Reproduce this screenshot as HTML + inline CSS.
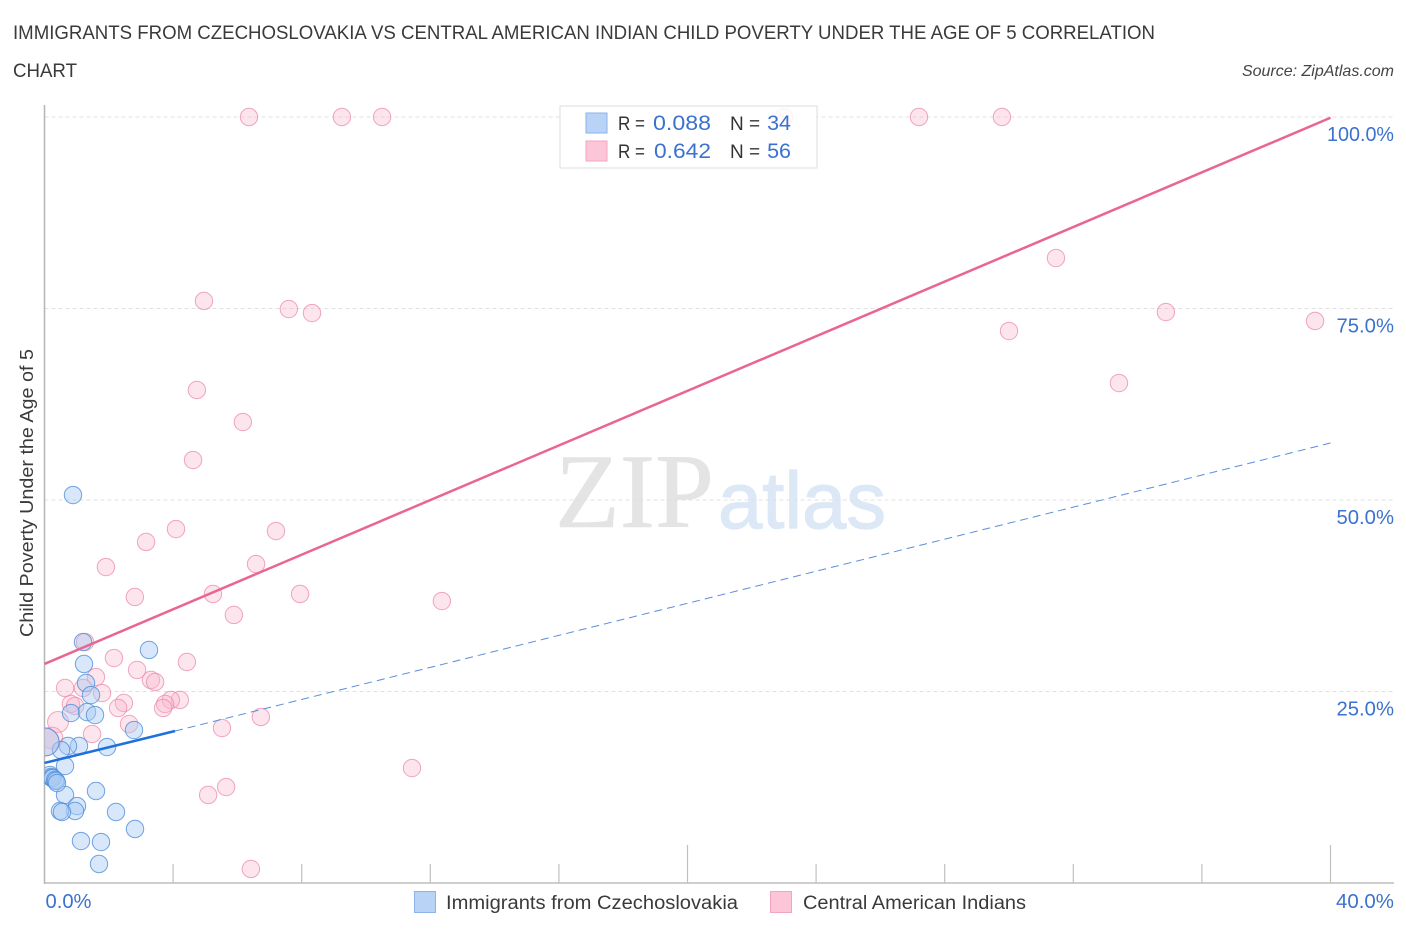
<!DOCTYPE html>
<html>
<head>
<meta charset="utf-8">
<title>Correlation Chart</title>
<style>
html,body{margin:0;padding:0;background:#fff;width:1406px;height:930px;overflow:hidden}
svg{display:block}
text{font-family:"Liberation Sans",sans-serif}
</style>
</head>
<body>
<svg id="chart" width="1406" height="930" viewBox="0 0 1406 930" xmlns="http://www.w3.org/2000/svg">
  <defs><clipPath id="plot-clip"><rect x="44.5" y="90" width="1350" height="793"/></clipPath></defs>
  <text x="13" y="39" font-size="19" fill="#3a3a3a" textLength="1142" lengthAdjust="spacingAndGlyphs">IMMIGRANTS FROM CZECHOSLOVAKIA VS CENTRAL AMERICAN INDIAN CHILD POVERTY UNDER THE AGE OF 5 CORRELATION</text>
  <text x="13" y="77" font-size="19" fill="#3a3a3a" textLength="64" lengthAdjust="spacingAndGlyphs">CHART</text>
  <text x="1394" y="76" font-size="16" font-style="italic" fill="#444" text-anchor="end">Source: ZipAtlas.com</text>
  <g>
    <text x="555" y="527" font-size="106" fill="#e4e4e4" stroke="#e4e4e4" stroke-width="0.6" textLength="159" lengthAdjust="spacingAndGlyphs" style="font-family:'Liberation Serif',serif">ZIP</text>
    <text x="718" y="528" font-size="80" fill="#dde8f7" stroke="#dde8f7" stroke-width="1.2" textLength="168" lengthAdjust="spacingAndGlyphs">atlas</text>
  </g>
  <g id="grid"></g>
  <g id="axes"></g>
  <g id="marks-pink" clip-path="url(#plot-clip)"></g>
  <g id="marks-blue" clip-path="url(#plot-clip)"></g>
  <g id="trends"></g>
  <text transform="translate(33,493) rotate(-90)" font-size="18.5" fill="#3a3a3a" text-anchor="middle" textLength="288" lengthAdjust="spacingAndGlyphs">Child Poverty Under the Age of 5</text>
  <g>
    <rect x="560" y="106" width="257" height="62" fill="#fff" fill-opacity="0.85" stroke="#ddd" stroke-width="1"/>
    <rect x="586" y="113" width="21" height="20" fill="#b9d3f6" stroke="#8cb3ea" stroke-width="1"/>
    <rect x="586" y="141" width="21" height="20" fill="#fcc6d8" stroke="#f3a5bf" stroke-width="1"/>
    <text x="618" y="130" font-size="19" fill="#333" textLength="27" lengthAdjust="spacingAndGlyphs">R =</text>
    <text x="653" y="130" font-size="21.5" fill="#3b72cf" textLength="58" lengthAdjust="spacingAndGlyphs">0.088</text>
    <text x="730" y="130" font-size="19" fill="#333">N =</text>
    <text x="791" y="130" font-size="21.5" fill="#3b72cf" text-anchor="end">34</text>
    <text x="618" y="158" font-size="19" fill="#333" textLength="27" lengthAdjust="spacingAndGlyphs">R =</text>
    <text x="654" y="158" font-size="21.5" fill="#3b72cf" textLength="57" lengthAdjust="spacingAndGlyphs">0.642</text>
    <text x="730" y="158" font-size="19" fill="#333">N =</text>
    <text x="791" y="158" font-size="21.5" fill="#3b72cf" text-anchor="end">56</text>
  </g>
  <g>
    <rect x="414.500" y="891.500" width="21" height="21" fill="#b9d3f6" stroke="#8cb3ea" stroke-width="1"/>
    <text x="446" y="909" font-size="19" fill="#3a3a3a" textLength="292" lengthAdjust="spacingAndGlyphs">Immigrants from Czechoslovakia</text>
    <rect x="770.500" y="891.500" width="21" height="21" fill="#fcc6d8" stroke="#f3a5bf" stroke-width="1"/>
    <text x="803" y="909" font-size="19" fill="#3a3a3a" textLength="223" lengthAdjust="spacingAndGlyphs">Central American Indians</text>
  </g>
</svg>
<script>
const yTicks = [25, 50, 75, 100];
const yTickLabels = ["25.0%", "50.0%", "75.0%", "100.0%"];
const xTicks = [0, 4, 8, 12, 16, 20, 24, 28, 32, 36, 40];
const xMajorTicks = [20, 40];
const xEdgeValues = [0, 40];
const xEdgeLabels = ["0.0%", "40.0%"];

const blueX = [0.886,1.198,1.229,3.25,1.291,1.446,0.824,1.322,1.571,2.784,1.944,1.073,0.731,0.513,0.638,0.638,1.602,1.011,0.949,0.482,0.544,2.224,2.815,1.135,1.757,1.695,0.17,0.20,0.23,0.26,0.33,0.36,0.39,0.02];
const blueY = [50.65,31.46,28.59,30.42,26.11,24.54,22.19,22.32,21.93,19.97,17.75,17.89,17.89,17.36,15.27,11.49,12.01,10.05,9.40,9.40,9.27,9.27,7.05,5.48,5.35,2.48,14.10,13.84,13.71,13.71,13.45,13.32,13.05,18.41];
const blueWeight = [1,1,1,1,1,1,1,1,1,1,1,1,1,1,1,1,1,1,1,1,1,1,1,1,1,1,1,1,1,1,1,1,1,1.6];

const pinkX = [6.36,9.25,10.50,23.00,27.20,29.78,31.46,4.96,7.60,8.32,34.88,39.52,30.00,33.42,4.74,6.17,4.62,4.09,7.20,3.16,6.58,1.91,2.81,5.24,7.95,12.36,5.89,1.26,4.43,2.16,2.88,1.60,3.31,3.44,0.64,1.20,1.79,4.21,3.93,2.47,0.82,0.95,2.29,3.75,3.69,1.48,2.63,5.52,6.73,0.42,11.43,5.65,5.09,6.42,0.23,0.02];
const pinkY = [100,100,100,100,100,100,81.59,75.98,74.93,74.41,74.54,73.37,72.06,65.27,64.36,60.18,55.22,46.21,45.95,44.52,41.64,41.25,37.34,37.73,37.73,36.81,34.99,31.46,28.85,29.37,27.81,26.89,26.50,26.24,25.46,25.46,24.80,23.89,23.89,23.50,23.37,23.11,22.85,23.37,22.85,19.45,20.76,20.23,21.67,21.02,15.01,12.53,11.49,1.83,18.93,18.41];
const pinkWeight = [1,1,1,1,1,1,1,1,1,1,1,1,1,1,1,1,1,1,1,1,1,1,1,1,1,1,1,1,1,1,1,1,1,1,1,1,1,1,1,1,1,1,1,1,1,1,1,1,1,1.2,1,1,1,1,1.25,1.6];

const pinkTrendX = [0, 40];
const pinkTrendY = [28.6, 99.9];
const blueTrendSolidX = [0, 4.06];
const blueTrendSolidY = [15.67, 19.84];
const blueTrendDashX = [4.06, 40];
const blueTrendDashY = [19.84, 57.44];

const NS = "http://www.w3.org/2000/svg";
const xScale = v => 44.5 + v * 32.15;
const yScale = v => 883 - v * 7.66;
const BASE_R = 8.7;

function mk(parent, tag, attrs, text) {
  const el = document.createElementNS(NS, tag);
  for (const k in attrs) el.setAttribute(k, attrs[k]);
  if (text !== undefined) el.textContent = text;
  parent.appendChild(el);
  return el;
}

const grid = document.getElementById("grid");
const axes = document.getElementById("axes");

yTicks.forEach((t, i) => {
  const line = mk(grid, "line", {x1: 44.5, x2: 1394, y1: yScale(t), y2: yScale(t), stroke: "#e0e0e0", "stroke-width": 1, "stroke-dasharray": "4 3"});
  
  
  const label = mk(axes, "text", {x: 1394, y: yScale(t) + 24, "font-size": 20, fill: "#3b72cf", "text-anchor": "end", textLength: yTickLabels[i].length > 5 ? 67 : 57.5, lengthAdjust: "spacingAndGlyphs"}, yTickLabels[i]);
  
  
});

const yAxis = mk(axes, "line", {x1: 44.5, x2: 44.5, y1: 105, y2: 884, stroke: "#b5b5b5", "stroke-width": 1.5});


const xAxis = mk(axes, "line", {x1: 44, x2: 1394, y1: 883, y2: 883, stroke: "#bdbdbd", "stroke-width": 1.5});



xTicks.forEach(t => {
  if (t === 0) return;
  const h = xMajorTicks.includes(t) ? 38 : 19;
  const tick = mk(axes, "line", {x1: xScale(t), x2: xScale(t), y1: 883, y2: 883 - h, stroke: "#c0c0c0", "stroke-width": 1.2});
  
  
});

xEdgeValues.forEach((v, i) => {
  const label = mk(axes, "text", {x: i === 0 ? xScale(v) + 1 : 1394, y: 908, "font-size": 20, fill: "#3b72cf", "text-anchor": i === 0 ? "start" : "end", textLength: i === 0 ? 46 : 58, lengthAdjust: "spacingAndGlyphs"}, xEdgeLabels[i]);
  
  
});

const pinkLayer = document.getElementById("marks-pink");
pinkX.forEach((x, i) => {
  const c = mk(pinkLayer, "circle", {cx: xScale(x), cy: yScale(pinkY[i]), r: BASE_R * pinkWeight[i], fill: "#f9b8ce", "fill-opacity": 0.36, stroke: "#ec88a9", "stroke-opacity": 0.75, "stroke-width": 1});
  
  
});

const blueLayer = document.getElementById("marks-blue");
blueX.forEach((x, i) => {
  const c = mk(blueLayer, "circle", {cx: xScale(x), cy: yScale(blueY[i]), r: BASE_R * blueWeight[i], fill: "#a9caf3", "fill-opacity": 0.46, stroke: "#4f8ddd", "stroke-opacity": 0.8, "stroke-width": 1});
  
  
});

const trends = document.getElementById("trends");
const pinkTrend = mk(trends, "line", {x1: xScale(pinkTrendX[0]), y1: yScale(pinkTrendY[0]), x2: xScale(pinkTrendX[1]), y2: yScale(pinkTrendY[1]), stroke: "#e9668f", "stroke-width": 2.5});


const blueDash = mk(trends, "line", {x1: xScale(blueTrendDashX[0]), y1: yScale(blueTrendDashY[0]), x2: xScale(blueTrendDashX[1]), y2: yScale(blueTrendDashY[1]), stroke: "#5b8fd8", "stroke-width": 1, "stroke-dasharray": "8 5"});


const blueSolid = mk(trends, "line", {x1: xScale(blueTrendSolidX[0]), y1: yScale(blueTrendSolidY[0]), x2: xScale(blueTrendSolidX[1]), y2: yScale(blueTrendSolidY[1]), stroke: "#1f6fdc", "stroke-width": 2.5});


</script>
</body>
</html>
